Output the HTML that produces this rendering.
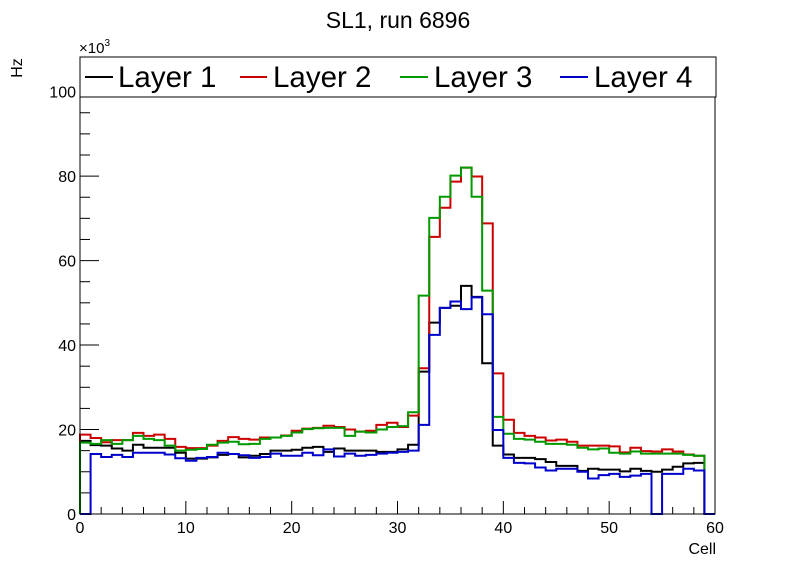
<!DOCTYPE html>
<html><head><meta charset="utf-8"><style>
body{margin:0;background:#fff;}
svg{display:block;font-family:"Liberation Sans",Arial,sans-serif;}
</style></head><body>
<svg id="chart" width="796" height="572" viewBox="0 0 796 572" xmlns="http://www.w3.org/2000/svg">
<rect x="0" y="0" width="796" height="572" fill="#fff"/>
<text x="398" y="28" font-size="23" text-anchor="middle">SL1, run 6896</text>
<g id="axes"></g>
<g id="series"></g>
<rect x="80" y="57" width="635" height="457" fill="none" stroke="#000" stroke-width="1"/>
<g>
<rect x="80" y="57" width="636" height="40" fill="#fff" stroke="#000" stroke-width="1"/>
<line x1="85" y1="77" x2="113" y2="77" stroke="#000" stroke-width="2"/>
<text x="118" y="87" font-size="29.5">Layer 1</text>
<line x1="240" y1="77" x2="267" y2="77" stroke="#cc0000" stroke-width="2"/>
<text x="273" y="87" font-size="29.5">Layer 2</text>
<line x1="400" y1="77" x2="428" y2="77" stroke="#009900" stroke-width="2"/>
<text x="434" y="87" font-size="29.5">Layer 3</text>
<line x1="560" y1="77" x2="588" y2="77" stroke="#0000cc" stroke-width="2"/>
<text x="594" y="87" font-size="29.5">Layer 4</text>
</g>
<text x="22" y="68" font-size="16" text-anchor="middle" transform="rotate(-90 22 68)">Hz</text>
<text x="79" y="53" font-size="15">×10<tspan dy="-7" font-size="10">3</tspan></text>
<text x="716" y="554" font-size="16" text-anchor="end">Cell</text>
</svg>
<script>
const layer1 = [17.3,16.3,16.2,15.5,15.0,16.4,15.7,15.7,15.7,14.5,13.1,13.1,13.4,14.0,14.2,13.4,13.8,14.2,15.0,15.0,15.2,15.7,15.9,14.7,15.5,15.0,15.0,15.0,14.7,14.7,15.3,16.4,33.7,45.3,48.8,49.3,54.0,51.4,35.7,16.2,14.1,13.3,13.3,13.0,12.3,11.4,11.4,10.2,10.7,10.5,10.5,10.1,10.7,10.2,10.0,10.5,11.2,12.0,12.1,0];
const layer2 = [18.8,18.0,17.0,17.5,17.5,19.2,18.5,18.8,17.8,15.9,15.6,15.6,16.2,17.3,18.2,17.8,17.6,18.1,18.1,18.6,19.7,20.2,20.4,20.9,20.6,20.0,19.5,19.7,21.1,21.6,20.6,23.3,34.5,65.6,72.5,78.7,82.0,79.9,68.8,33.3,22.3,19.2,18.5,18.1,17.4,17.6,17.1,16.2,16.2,16.2,16.0,14.6,15.7,14.9,14.8,15.3,14.8,14.1,13.8,0];
const layer3 = [16.9,16.6,17.5,16.6,17.5,18.5,17.8,17.5,16.2,15.0,15.2,15.4,16.4,16.9,17.1,16.5,16.6,17.8,18.1,18.5,19.3,20.1,20.3,20.4,20.4,18.5,19.5,19.3,20.0,20.6,20.8,24.1,51.7,70.1,75.1,80.1,82.0,75.1,52.9,23.0,19.0,17.8,17.6,17.1,16.6,16.6,16.4,15.7,15.3,15.5,14.5,14.3,14.8,14.3,14.3,14.3,14.3,14.0,13.8,0];
const layer4 = [0,14.2,13.5,14.0,13.5,14.5,14.5,14.5,14.1,13.2,12.6,13.3,13.5,14.5,14.2,13.9,13.3,13.5,14.3,13.8,13.8,14.5,13.9,15.3,13.6,14.3,13.8,14.0,14.3,14.5,14.7,15.0,21.1,42.4,48.8,50.3,48.5,51.3,47.3,19.9,13.3,12.1,12.0,11.0,10.3,10.7,10.7,10.0,8.4,9.2,9.5,8.8,9.1,9.5,0,9.5,9.5,10.7,10.3,0];
const seriesNames = ["layer-1","layer-2","layer-3","layer-4"];
const seriesColors = ["#000000","#cc0000","#009900","#0000cc"];
const xTickLabels = [0,10,20,30,40,50,60];
const yTickLabels = [0,20,40,60,80,100];
const X0=80,X1=715,Y0=514,Y1=57,XMIN=0,XMAX=60,YMIN=0,YMAX=108.2;
const NS="http://www.w3.org/2000/svg";
function xs(v){return X0+(v-XMIN)/(XMAX-XMIN)*(X1-X0);}
function ys(v){return Y0-(v-YMIN)/(YMAX-YMIN)*(Y0-Y1);}
function mk(tag,attrs,parent){const e=document.createElementNS(NS,tag);for(const k in attrs)e.setAttribute(k,attrs[k]);parent.appendChild(e);return e;}
const axes=document.getElementById('axes');
for(let v=0;v<=60;v+=2){const major=v%10===0;const t=mk('line',{x1:xs(v),x2:xs(v),y1:Y0,y2:Y0-(major?13:7),stroke:'#000','stroke-width':1},axes);

}
xTickLabels.forEach(v=>{const t=mk('text',{x:xs(v),y:Y0+19,'font-size':16,'text-anchor':'middle'},axes);t.textContent=v;

});
for(let v=0;v<=105;v+=5){const major=v%20===0;const t=mk('line',{x1:X0,x2:X0+(major?19:10),y1:ys(v),y2:ys(v),stroke:'#000','stroke-width':1},axes);

}
yTickLabels.forEach(v=>{const t=mk('text',{x:X0-4,y:ys(v)+6,'font-size':16,'text-anchor':'end'},axes);t.textContent=v;

});
const sg=document.getElementById('series');
[layer1,layer2,layer3,layer4].forEach((arr,i)=>{
 let d='M'+xs(0)+','+ys(0);
 arr.forEach((v,k)=>{d+=' L'+xs(k)+','+ys(v)+' L'+xs(k+1)+','+ys(v);});
 d+=' L'+xs(arr.length)+','+ys(0);
 const p=mk('path',{d:d,fill:'none',stroke:seriesColors[i],'stroke-width':2},sg);
 
 
});
</script>
</body></html>
